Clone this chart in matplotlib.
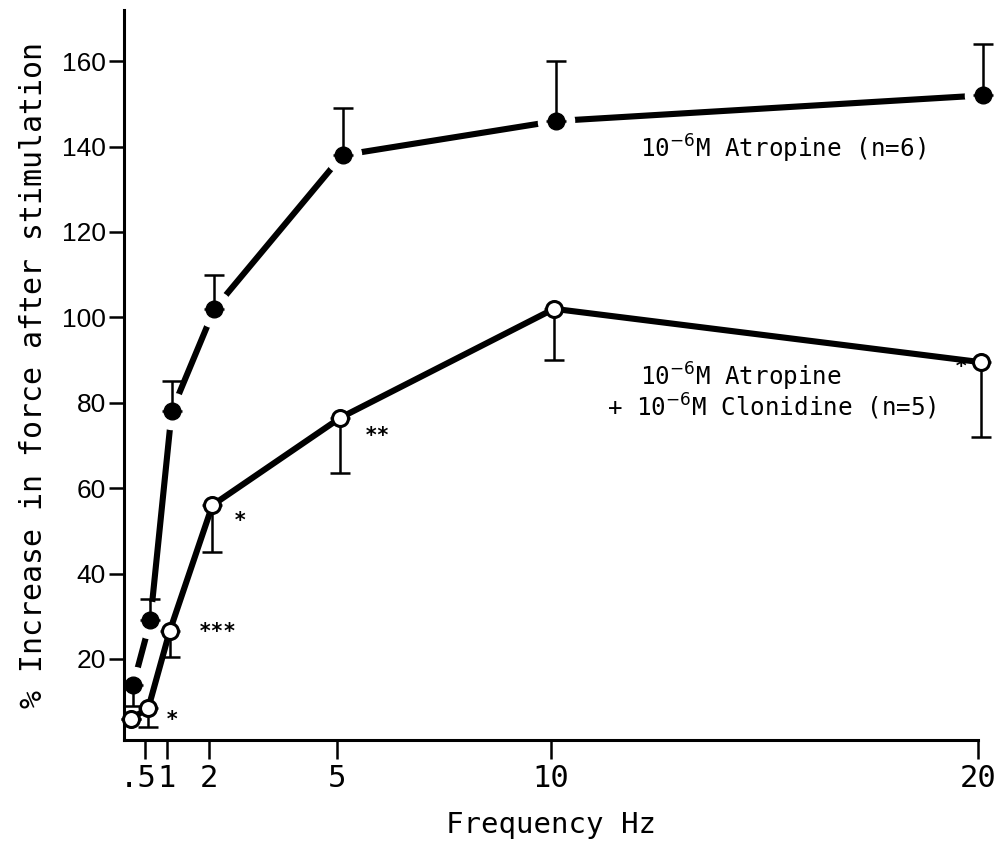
import matplotlib
matplotlib.use("Agg")
import matplotlib.pyplot as plt
import matplotlib.transforms as mtransforms

# stimulation frequencies (Hz)
freq = [0.1, 0.5, 1, 2, 5, 10, 20]

# 10-6 M atropine, mean and SEM (upper bars)
atropine = [14, 29, 78, 102, 138, 146, 152]
atropine_up = [0, 5, 7, 8, 11, 14, 12]
atropine_down = [5, 0, 0, 0, 0, 0, 0]

# atropine + clonidine, mean and SEM (lower bars)
clonidine = [6, 8.5, 26.5, 56, 76.5, 102, 89.5]
clonidine_down = [0, 4.5, 6, 11, 13, 12, 17.5]

# significance marks
stars_x = [1.12, 2.2, 2.72, 5.93, 19.6]
stars_y = [5.6, 26.2, 52.3, 72.3, 88.3]
stars_txt = ["*", "***", "*", "**", "*"]

xticks = [0.5, 1, 2, 5, 10, 20]
xtick_labels = [".5", "1", "2", "5", "10", "20"]
yticks = [20, 40, 60, 80, 100, 120, 140, 160]

MONO = "DejaVu Sans Mono"

fig = plt.figure(figsize=(10.04, 8.44), dpi=100)
ax = fig.add_axes([124 / 1004, 104 / 844, 854 / 1004, 730 / 844])
ax.set_xlim(0, 20)
ax.set_ylim(1, 172)

tr_fill = mtransforms.offset_copy(ax.transData, fig=fig, x=5, y=0, units="dots")
tr_open = mtransforms.offset_copy(ax.transData, fig=fig, x=3, y=0, units="dots")

# atropine line with white halos so it breaks around each point
ax.plot(freq, atropine, color="black", lw=4.4, transform=tr_fill, zorder=1,
        clip_on=False, solid_capstyle="butt")
ax.plot(freq, atropine, ls="none", marker="o", ms=26, mfc="white", mec="white",
        transform=tr_fill, zorder=2, clip_on=False)

ax.plot(freq, clonidine, color="black", lw=4.4, transform=tr_open, zorder=3,
        clip_on=False)

ax.errorbar(freq, atropine, yerr=[atropine_down, atropine_up], fmt="none",
            ecolor="black", elinewidth=1.8, capsize=7, capthick=1.8,
            transform=tr_fill, zorder=4, clip_on=False)
ax.errorbar(freq, clonidine, yerr=[clonidine_down, [0] * len(freq)], fmt="none",
            ecolor="black", elinewidth=1.8, capsize=7, capthick=1.8,
            transform=tr_open, zorder=4, clip_on=False)

ax.plot(freq, clonidine, ls="none", marker="o", ms=11.5, mfc="white", mec="black",
        mew=2.2, transform=tr_open, zorder=5, clip_on=False)
ax.plot(freq, atropine, ls="none", marker="o", ms=12, mfc="black", mec="black",
        transform=tr_fill, zorder=6, clip_on=False)

for x, y, s in zip(stars_x, stars_y, stars_txt):
    ax.text(x, y, s, fontsize=15, family=MONO, fontweight="bold",
            ha="center", va="center")

ax.text(12.08, 139.5, r"10$^{-6}$M Atropine (n=6)", fontsize=17.5, family=MONO,
        ha="left", va="center")
ax.text(12.08, 86, r"10$^{-6}$M Atropine", fontsize=17.5, family=MONO,
        ha="left", va="center")
ax.text(11.3, 79, r"+ 10$^{-6}$M Clonidine (n=5)", fontsize=17.5, family=MONO,
        ha="left", va="center")

for side in ("top", "right"):
    ax.spines[side].set_visible(False)
for side in ("left", "bottom"):
    ax.spines[side].set_linewidth(2.2)

ax.set_yticks(yticks)
ax.set_yticklabels([str(v) for v in yticks], fontsize=19, family="Liberation Sans")
ax.tick_params(axis="y", direction="out", length=11, width=1.8, pad=2)

ax.set_xticks(xticks)
ax.set_xticklabels(xtick_labels, fontsize=22, family=MONO)
ax.tick_params(axis="x", direction="out", length=14, width=1.8, pad=3)
# pull ".5" left so it clears the "1"
lbl = ax.get_xticklabels()[0]
lbl.set_transform(lbl.get_transform() +
                  mtransforms.ScaledTranslation(-7 / 100, 0, fig.dpi_scale_trans))

ax.set_xlabel("Frequency Hz", fontsize=21, family=MONO, labelpad=13)
ax.set_ylabel("% Increase in force after stimulation", fontsize=21.5, family=MONO,
              labelpad=10)

fig.savefig("out.png", dpi=100, facecolor="white")
